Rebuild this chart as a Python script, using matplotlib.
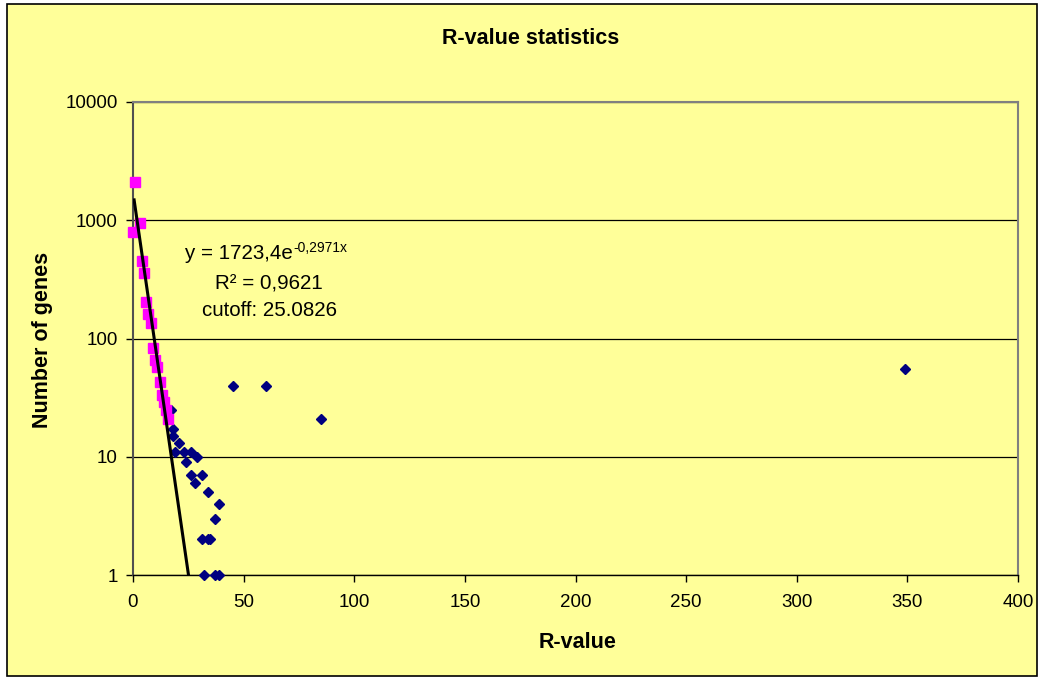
import matplotlib
matplotlib.use("Agg")
import matplotlib.pyplot as plt
import numpy as np
from matplotlib.patches import Rectangle
from matplotlib.ticker import FixedLocator, FixedFormatter, NullLocator

# all genes binned by R-value (blue diamonds)
r_all = [0, 1, 3, 4, 5, 6, 7, 8, 9, 10, 11, 12, 13, 14, 15, 16,
         17, 18, 18, 19, 21, 23, 26, 29, 24, 26, 31, 28, 34, 39, 37,
         31, 34, 35, 32, 37, 39, 45, 60, 85, 349]
n_all = [790, 2100, 940, 455, 355, 205, 160, 135, 83, 66, 57, 43, 33, 29, 25, 21,
         25, 17, 15, 11, 13, 11, 11, 10, 9, 7, 7, 6, 5, 4, 3,
         2, 2, 2, 1, 1, 1, 40, 40, 21, 55]

# points used for the exponential fit (pink squares)
r_fit = [0, 1, 3, 4, 5, 6, 7, 8, 9, 10, 11, 12, 13, 14, 15, 16]
n_fit = [790, 2100, 940, 455, 355, 205, 160, 135, 83, 66, 57, 43, 33, 29, 25, 21]

fit_a = 1723.4
fit_b = -0.2971
fit_r2 = 0.9621
cutoff = 25.0826

x_ticks = [0, 50, 100, 150, 200, 250, 300, 350, 400]
y_ticks = [1, 10, 100, 1000, 10000]
y_ticklabels = ["1", "10", "100", "1000", "10000"]

W, H = 1041, 677
bg = "#FFFF99"
plt.rcParams["font.family"] = ["Liberation Sans", "DejaVu Sans"]

fig = plt.figure(figsize=(W / 100, H / 100), dpi=100)
fig.patch.set_facecolor("white")

def px(x, y):
    return x / W, 1 - y / H

# outer chart border
x0, y0 = px(7, 676)
x1, y1 = px(1037, 4)
fig.patches.append(Rectangle((x0, y0), x1 - x0, y1 - y0, transform=fig.transFigure,
                             facecolor=bg, edgecolor="black", linewidth=1.2, zorder=-5))

left, bottom = px(133, 575)
right, top = px(1018, 102)
ax = fig.add_axes([left, bottom, right - left, top - bottom])
ax.set_facecolor(bg)

ax.set_yscale("log")
ax.set_xlim(0, 400)
ax.set_ylim(1, 10000)
ax.xaxis.set_major_locator(FixedLocator(x_ticks))
ax.yaxis.set_major_locator(FixedLocator(y_ticks))
ax.yaxis.set_major_formatter(FixedFormatter(y_ticklabels))
ax.yaxis.set_minor_locator(NullLocator())
ax.tick_params(axis="both", direction="out", length=5, width=1, labelsize=13.5, color="black")
ax.tick_params(axis="y", pad=6)
ax.tick_params(axis="x", pad=9)
ax.grid(axis="y", color="black", linewidth=0.9)
ax.set_axisbelow(True)

ax.spines["left"].set_color("#505050")
ax.spines["left"].set_linewidth(1.5)
ax.spines["bottom"].set_color("black")
ax.spines["bottom"].set_linewidth(1)
for s in ("top", "right"):
    ax.spines[s].set_color("#808080")
    ax.spines[s].set_linewidth(1.5)

# data
ax.plot(r_all, n_all, linestyle="none", marker="D", markersize=4.8,
        color="#000080", zorder=3, clip_on=False)
ax.plot(r_fit, n_fit, linestyle="none", marker="s", markersize=6.5,
        color="#FF00FF", zorder=4, clip_on=False)

# exponential trend line up to the cutoff
xs = np.linspace(0.5, cutoff, 100)
ax.plot(xs, fit_a * np.exp(fit_b * xs), color="black", linewidth=2.2, zorder=5)

# equation text
fs = 14.8
eq = fig.text(*px(185, 259), "y = 1723,4e", fontsize=fs, ha="left", va="baseline")
ax.annotate("-0,2971x", xy=(1, 0), xycoords=eq, xytext=(0.5, 8),
            textcoords="offset points", fontsize=10, ha="left", va="baseline",
            annotation_clip=False)
fig.text(*px(269, 289), "R\u00b2 = 0,9621", fontsize=fs, ha="center", va="baseline")
fig.text(*px(269, 316), "cutoff: %.4f" % cutoff, fontsize=fs, ha="center", va="baseline")

fig.text(*px(531, 39), "R-value statistics", fontsize=15.5, fontweight="bold",
         ha="center", va="center")
fig.text(*px(43, 340), "Number of genes", fontsize=15.5, fontweight="bold",
         rotation=90, ha="center", va="center")
fig.text(*px(578, 642), "R-value", fontsize=15.5, fontweight="bold",
         ha="center", va="center")

fig.savefig("out.png", dpi=100, facecolor=fig.get_facecolor())
